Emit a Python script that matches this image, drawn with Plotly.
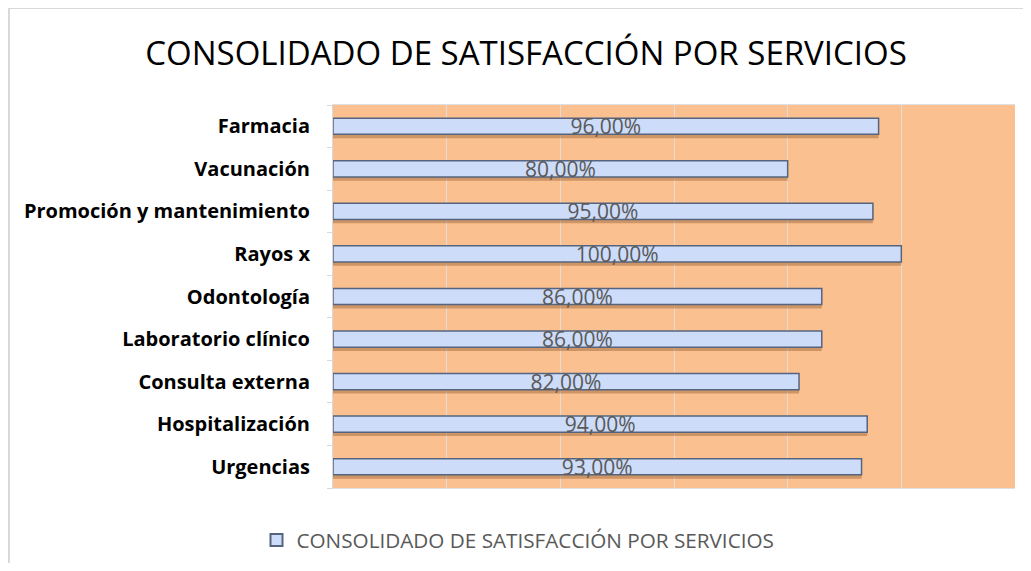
import plotly.graph_objects as go

categories = ["Urgencias", "Hospitalización", "Consulta externa", "Laboratorio clínico",
              "Odontología", "Rayos x", "Promoción y mantenimiento", "Vacunación", "Farmacia"]
values = [93, 94, 82, 86, 86, 100, 95, 80, 96]
series_name = "CONSOLIDADO DE SATISFACCIÓN POR SERVICIOS"
title_text = "CONSOLIDADO DE SATISFACCIÓN POR SERVICIOS"

W, H = 1015, 555
L, R, T, B = 325, 8, 97, 75
pw, ph = W - L - R, H - T - B

fig = go.Figure()
# soft shadow under each bar
fig.add_trace(go.Bar(
    y=categories, x=values, orientation="h", showlegend=False, hoverinfo="skip",
    width=0.40, offset=-0.28,
    marker=dict(color="rgba(150,95,50,0.45)", line=dict(width=0)),
))
fig.add_trace(go.Bar(
    y=categories, x=values, orientation="h", name=series_name,
    width=0.38,
    marker=dict(color="#cddcf8", line=dict(color="#56647f", width=1.5)),
    texttemplate="%{x:.2f}%", textposition="inside", insidetextanchor="middle",
    constraintext="none", cliponaxis=False,
    textfont=dict(family="Open Sans, Liberation Sans, sans-serif", size=21, color="#595959"),
    textangle=0,
))

fig.update_layout(
    width=W, height=H,
    barmode="overlay",
    separators=",.",
    paper_bgcolor="white", plot_bgcolor="#fac090",
    margin=dict(l=L, r=R, t=T, b=B),
    title=dict(text=title_text, x=518 / W, xanchor="center", y=1 - 45 / H, yanchor="middle",
               font=dict(family="Open Sans, Liberation Sans, sans-serif", size=33, color="#000000")),
    showlegend=True,
    legend=dict(orientation="h", xref="container", yref="container",
                x=510 / W, xanchor="center", y=1 - 532 / H, yanchor="middle",
                font=dict(family="Open Sans, Liberation Sans, sans-serif", size=20.7, color="#595959"),
                itemsizing="constant"),
    xaxis=dict(range=[0, 120], dtick=20, showgrid=True, gridcolor="#e6dcd6", gridwidth=1,
               showticklabels=False, zeroline=False, showline=True, mirror=True,
               linecolor="#e0e0e0", linewidth=1, fixedrange=True),
    yaxis=dict(showline=True, linecolor="#d9d9d9", linewidth=1, ticks="outside",
               tickson="boundaries", ticklen=5, tickcolor="#d9d9d9",
               tickfont=dict(family="Open Sans, Liberation Sans, sans-serif", size=20,
                             color="#000000", weight="bold"),
               ticklabelstandoff=18),
    shapes=[dict(type="rect", xref="paper", yref="paper",
                 x0=-(L - 1) / pw, x1=1.2, y0=-0.4, y1=1 + T / ph,
                 line=dict(color="#d9d9d9", width=2), fillcolor="rgba(0,0,0,0)", layer="below")],
)

fig.write_html("out.html")
